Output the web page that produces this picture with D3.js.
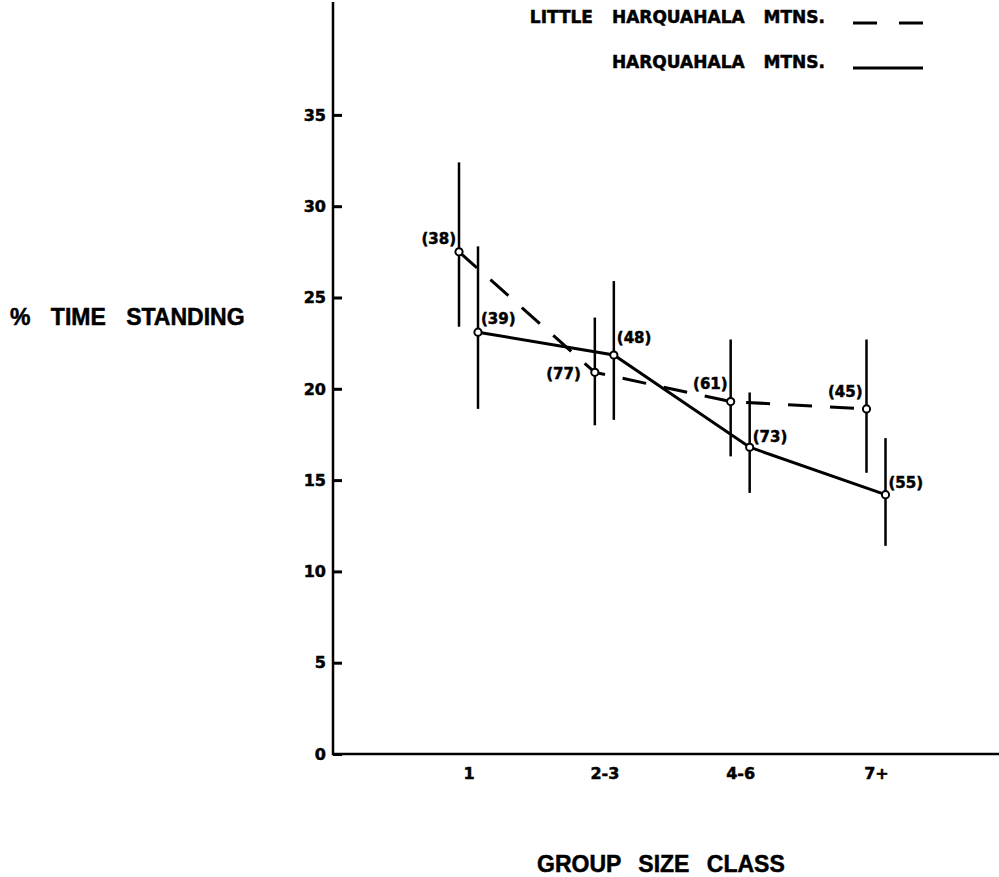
<!DOCTYPE html>
<html><head><meta charset="utf-8">
<script src="https://cdn.jsdelivr.net/npm/d3@7"></script>
<style>
html,body{margin:0;padding:0;background:#fff;}
svg{display:block;font-family:"DejaVu Sans",sans-serif;font-weight:bold;}
svg text{fill:#000;stroke:#000;stroke-width:0.5px;}
</style></head>
<body><svg id="c" width="999" height="877"></svg>
<script>
// ---- data ----
const categories = ["1", "2-3", "4-6", "7+"];
const yTicks = [0, 5, 10, 15, 20, 25, 30, 35];
const littleMean = [27.5, 20.9, 19.3, 18.9];
const littleLow  = [23.4, 18.0, 16.3, 15.4];
const littleHigh = [32.4, 23.9, 22.7, 22.7];
const littleN    = ["(38)", "(77)", "(61)", "(45)"];
const harqMean = [23.1, 21.85, 16.8, 14.2];
const harqLow  = [18.9, 18.3, 14.3, 11.4];
const harqHigh = [27.8, 25.9, 19.8, 17.3];
const harqN    = ["(39)", "(48)", "(73)", "(55)"];
const seriesNames = ["LITTLE HARQUAHALA MTNS.", "HARQUAHALA MTNS."];

// ---- layout ----
const svg = d3.select("#c");
const y = d3.scaleLinear().domain([0, 35]).range([754, 754 - 35 * 18.26]);
const x = d3.scalePoint().domain(categories).range([468.5, 876]);
const off = 9.5;
const axisX = 333;
const ink = "#000";

// y axis
const yAx = svg.append("g").attr("transform", `translate(${axisX},0)`)
  .call(d3.axisRight(y).tickValues(yTicks).tickSize(9).tickFormat(""));
yAx.select(".domain").remove();
yAx.selectAll(".tick line").attr("stroke", ink).attr("stroke-width", 3);
svg.append("line").attr("x1", axisX).attr("x2", axisX).attr("y1", y(0) + 1).attr("y2", 2)
  .attr("stroke", ink).attr("stroke-width", 2.5);
svg.append("g").selectAll("text").data(yTicks).join("text")
  .attr("x", 326).attr("y", d => y(d)).attr("dy", "0.36em").attr("text-anchor", "end")
  .attr("font-size", 16).text(d => d);

// x axis
const xAx = svg.append("g").attr("transform", `translate(0,${y(0)})`)
  .call(d3.axisBottom(x).tickSize(0).tickPadding(14));
xAx.select(".domain").remove();
xAx.selectAll("text").attr("font-size", 16).attr("font-family", "DejaVu Sans").attr("font-weight", "bold").attr("fill", ink);
svg.append("line").attr("x1", axisX - 1).attr("x2", 999).attr("y1", y(0)).attr("y2", y(0))
  .attr("stroke", ink).attr("stroke-width", 2.5);

// axis titles
svg.append("text").attr("x", 537).attr("y", 872).attr("text-anchor", "start")
  .attr("font-family", "Liberation Sans").attr("font-size", 23).attr("word-spacing", 11)
  .text("GROUP SIZE CLASS");
svg.append("text").attr("x", 10).attr("y", 325).attr("text-anchor", "start")
  .attr("font-family", "Liberation Sans").attr("font-size", 23).attr("word-spacing", 14)
  .text("% TIME STANDING");

// series
function drawSeries(mean, low, high, labels, dx, dash, labOff) {
  const g = svg.append("g");
  const idx = categories.map((c, i) => i);
  const line = d3.line().x(i => x(categories[i]) + dx).y(i => y(mean[i]));
  g.append("path").attr("d", line(idx)).attr("fill", "none").attr("stroke", ink)
    .attr("stroke-width", 3).attr("stroke-dasharray", dash);
  g.selectAll(".eb").data(idx).join("line")
    .attr("x1", i => x(categories[i]) + dx).attr("x2", i => x(categories[i]) + dx)
    .attr("y1", i => y(low[i])).attr("y2", i => y(high[i]))
    .attr("stroke", ink).attr("stroke-width", 2.5);
  g.selectAll("circle").data(idx).join("circle")
    .attr("cx", i => x(categories[i]) + dx).attr("cy", i => y(mean[i])).attr("r", 3.6)
    .attr("fill", "#fff").attr("stroke", ink).attr("stroke-width", 2);
  g.selectAll(".lab").data(idx).join("text")
    .attr("x", i => x(categories[i]) + dx + labOff[i][0])
    .attr("y", i => y(mean[i]) + labOff[i][1]).attr("dy", "0.36em")
    .attr("text-anchor", i => labOff[i][0] < 0 ? "end" : "start")
    .attr("font-size", 15).text(i => labels[i]);
}
drawSeries(littleMean, littleLow, littleHigh, littleN, -off, "24,18",
  [[-3, -13], [-14, 1], [-3, -18], [-4, -17]]);
drawSeries(harqMean, harqLow, harqHigh, harqN, off, null,
  [[3, -14], [3, -17], [3, -11], [3, -12]]);

// legend
svg.append("text").attr("x", 825).attr("y", 17).attr("dy", "0.36em").attr("text-anchor", "end")
  .attr("font-size", 17).attr("word-spacing", 13).text(seriesNames[0]);
svg.append("text").attr("x", 825).attr("y", 62).attr("dy", "0.36em").attr("text-anchor", "end")
  .attr("font-size", 17).attr("word-spacing", 13).text(seriesNames[1]);
svg.append("line").attr("x1", 853).attr("x2", 923).attr("y1", 23).attr("y2", 23)
  .attr("stroke", ink).attr("stroke-width", 3).attr("stroke-dasharray", "24,22");
svg.append("line").attr("x1", 853).attr("x2", 923).attr("y1", 68).attr("y2", 68)
  .attr("stroke", ink).attr("stroke-width", 3);
</script></body></html>
